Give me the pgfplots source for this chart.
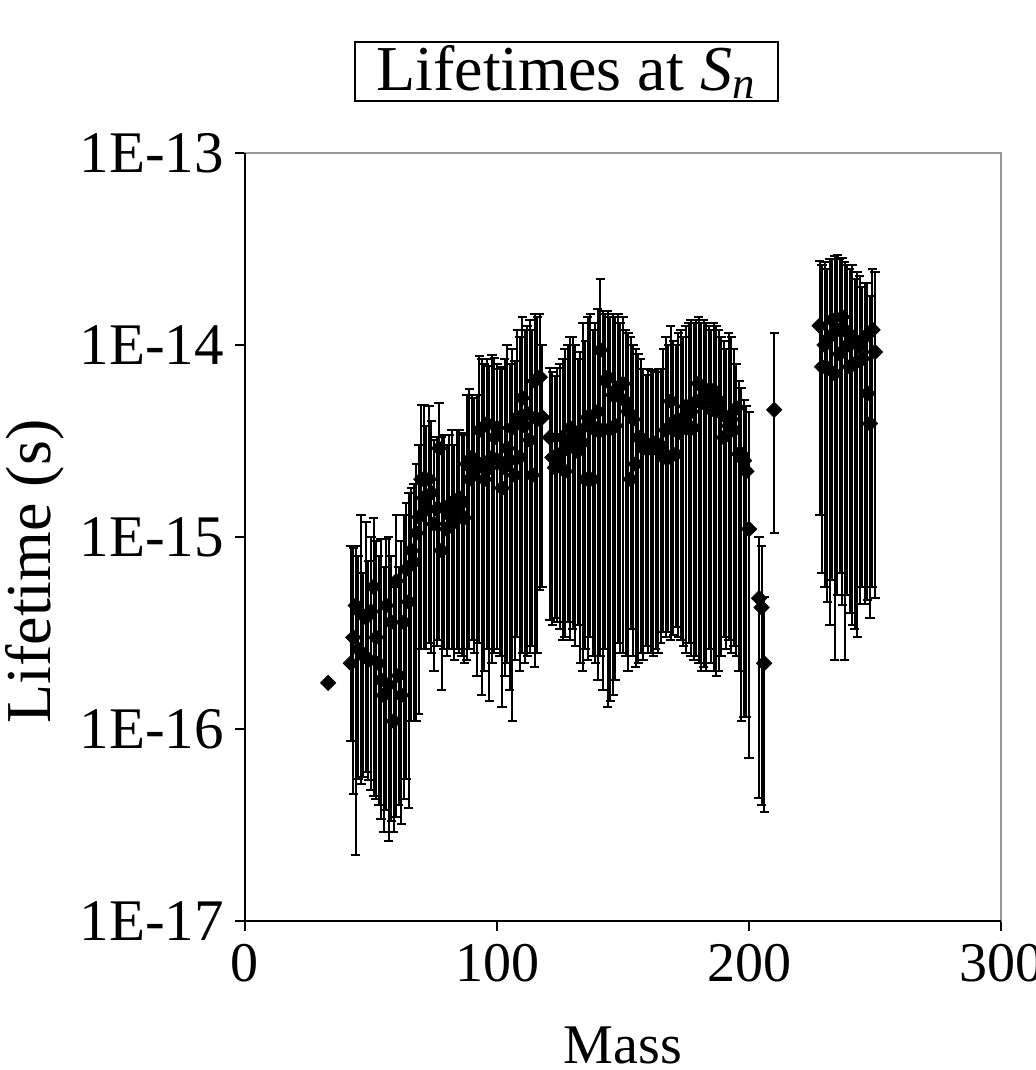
\documentclass[border=0pt]{standalone}
\usepackage{fontspec}
\setmainfont{Liberation Serif}
\usepackage{pgfplots}
\usepackage{pgfplotstable}
\pgfplotsset{compat=1.18}

\pgfplotstableread{
m y lo hi
42 2.2e-16 8.7e-17 9.0e-16
43 3.0e-16 4.6e-17 8.8e-16
44 4.4e-16 2.2e-17 9.0e-16
45 2.6e-16 5.5e-17 8.0e-16
46 4.0e-16 5.2e-17 1.3e-15
47 2.4e-16 5.6e-17 6.5e-16
48 3.8e-16 6.0e-17 1.2e-15
49 2.3e-16 5.4e-17 7.5e-16
50 4.1e-16 4.8e-17 1.0e-15
51 5.5e-16 4.5e-17 1.25e-15
52 3.0e-16 4.3e-17 9.5e-16
53 2.2e-16 4.0e-17 8.0e-16
54 1.8e-16 3.4e-17 9.8e-16
55 1.5e-16 2.9e-17 7.0e-16
56 4.4e-16 3.8e-17 9.8e-16
57 1.7e-16 2.6e-17 1.0e-15
58 3.6e-16 3.3e-17 8.0e-16
59 1.1e-16 2.9e-17 5.5e-16
60 5.9e-16 3.5e-17 1.3e-15
61 1.9e-16 4.0e-17 7.0e-16
62 1.5e-16 3.2e-17 9.5e-16
63 3.6e-16 4.3e-17 1.3e-15
64 6.8e-16 5.5e-17 1.5e-15
65 4.6e-16 3.9e-17 1.7e-15
66 8.5e-16 1.1e-16 1.8e-15
67 7.4e-16 1.1e-16 1.9e-15
68 1.05e-15 1.1e-16 2.4e-15
69 1.27e-15 1.2e-16 3.0e-15
70 2.0e-15 2.6e-16 4.9e-15
71 1.6e-15 2.6e-16 4.9e-15
72 1.4e-15 2.6e-16 3.8e-15
73 2.0e-15 2.8e-16 4.8e-15
74 1.7e-15 2.5e-16 4.0e-15
75 1.17e-15 2.0e-16 3.2e-15
76 1.4e-15 2.7e-16 3.3e-15
77 2.9e-15 2.9e-16 5.0e-15
78 8.5e-16 1.6e-16 3.3e-15
79 1.43e-15 2.6e-16 3.4e-15
80 1.1e-15 2.4e-16 3.0e-15
81 1.3e-15 2.6e-16 3.4e-15
82 1.5e-15 2.6e-16 3.6e-15
83 1.2e-15 2.3e-16 3.0e-15
84 1.4e-15 2.6e-16 3.6e-15
85 1.6e-15 2.5e-16 3.6e-15
86 1.5e-15 2.4e-16 3.5e-15
87 1.26e-15 2.2e-16 3.4e-15
88 2.4e-15 2.3e-16 5.5e-15
89 2.0e-15 2.6e-16 5.9e-15
90 2.6e-15 2.9e-16 5.5e-15
91 2.2e-15 2.5e-16 5.3e-15
92 2.3e-15 1.9e-16 5.5e-15
93 3.6e-15 2.8e-16 8.8e-15
94 2.4e-15 1.5e-16 8.5e-15
95 2.0e-15 2.0e-16 8.0e-15
96 3.9e-15 2.6e-16 8.5e-15
97 2.3e-15 1.4e-16 7.8e-15
98 2.6e-15 2.2e-16 8.9e-15
99 3.3e-15 2.5e-16 8.6e-15
100 3.7e-15 2.6e-16 8.0e-15
101 2.5e-15 2.4e-16 7.5e-15
102 1.8e-15 1.3e-16 7.7e-15
103 2.3e-15 1.9e-16 8.5e-15
104 2.9e-15 2.2e-16 1.0e-14
105 2.5e-15 1.6e-16 8.0e-15
106 3.7e-15 1.1e-16 9.5e-15
107 2.1e-15 2.3e-16 8.3e-15
108 4.2e-15 3.0e-16 1.2e-14
109 2.6e-15 2.0e-16 1.1e-14
110 5.3e-15 2.5e-16 1.4e-14
111 3.8e-15 2.2e-16 1.2e-14
112 4.4e-15 2.4e-16 1.25e-14
113 3.2e-15 2.5e-16 1.35e-14
114 2.1e-15 2.7e-16 1.2e-14
115 6.5e-15 2.1e-16 1.45e-14
116 4.1e-15 2.5e-16 1.4e-14
117 6.8e-15 5.3e-16 1.45e-14
118 4.2e-15 5.5e-16 1.0e-14
121 3.3e-15 3.7e-16 7.6e-15
122 2.6e-15 3.5e-16 7.2e-15
123 2.3e-15 3.8e-16 6.9e-15
124 2.4e-15 3.6e-16 7.6e-15
125 2.7e-15 3.3e-16 8.0e-15
126 3.3e-15 2.9e-16 8.5e-15
127 2.2e-15 3.0e-16 9.5e-15
128 3.0e-15 3.6e-16 1.0e-14
129 3.7e-15 2.9e-16 1.1e-14
130 3.3e-15 3.3e-16 1.1e-14
131 3.3e-15 2.7e-16 1.0e-14
132 2.8e-15 3.5e-16 8.5e-15
133 3.6e-15 2.2e-16 9.2e-15
134 3.1e-15 2.0e-16 1.3e-14
135 2.0e-15 2.6e-16 1.05e-14
136 4.2e-15 2.3e-16 1.4e-14
137 3.9e-15 3.0e-16 1.45e-14
138 2.0e-15 2.4e-16 1.2e-14
139 3.6e-15 2.2e-16 1.3e-14
140 4.5e-15 1.8e-16 1.55e-14
141 9.4e-15 2.4e-16 2.2e-14
142 3.6e-15 1.6e-16 1.5e-14
143 6.5e-15 2.6e-16 1.45e-14
144 6.8e-15 1.3e-16 1.5e-14
145 3.7e-15 1.4e-16 1.4e-14
146 5.5e-15 1.5e-16 1.45e-14
147 3.8e-15 1.8e-16 1.4e-14
148 6.0e-15 2.8e-16 1.45e-14
149 5.3e-15 2.5e-16 1.3e-14
150 6.3e-15 2.5e-16 1.4e-14
151 5.1e-15 2.4e-16 1.2e-14
152 4.5e-15 2.0e-16 1.15e-14
153 2.0e-15 3.3e-16 1.1e-14
154 4.1e-15 2.4e-16 1.0e-14
155 2.4e-15 2.1e-16 9.5e-15
156 3.3e-15 2.2e-16 9.0e-15
157 3.3e-15 2.5e-16 8.5e-15
158 2.9e-15 2.3e-16 7.5e-15
159 3.1e-15 2.7e-16 7.0e-15
160 2.9e-15 2.5e-16 7.5e-15
161 3.0e-15 2.5e-16 7.4e-15
162 3.1e-15 2.4e-16 7.3e-15
163 2.9e-15 2.6e-16 7.2e-15
164 3.0e-15 2.5e-16 7.5e-15
165 3.0e-15 2.8e-16 7.5e-15
166 2.6e-15 3.2e-16 9.5e-15
167 3.6e-15 3.0e-16 1.1e-14
168 2.6e-15 3.2e-16 1.0e-14
169 5.1e-15 2.9e-16 1.25e-14
170 4.0e-15 3.1e-16 1.05e-14
171 2.7e-15 3.4e-16 1.0e-14
172 3.5e-15 3.0e-16 1.15e-14
173 4.0e-15 2.9e-16 1.2e-14
174 4.2e-15 2.7e-16 1.1e-14
175 4.8e-15 2.5e-16 1.25e-14
176 3.7e-15 2.8e-16 1.3e-14
177 4.5e-15 2.4e-16 1.35e-14
178 3.7e-15 2.3e-16 1.3e-14
179 5.1e-15 2.4e-16 1.35e-14
180 6.3e-15 2.2e-16 1.4e-14
181 5.0e-15 2.0e-16 1.3e-14
182 6.0e-15 2.1e-16 1.35e-14
183 5.5e-15 2.0e-16 1.3e-14
184 5.3e-15 2.6e-16 1.25e-14
185 4.6e-15 2.2e-16 1.2e-14
186 5.8e-15 2.0e-16 1.3e-14
187 5.3e-15 1.9e-16 1.25e-14
188 5.0e-15 2.0e-16 1.2e-14
189 4.4e-15 2.4e-16 1.1e-14
190 3.3e-15 3.0e-16 1.05e-14
191 4.2e-15 2.6e-16 9.5e-15
192 3.8e-15 2.9e-16 1.15e-14
193 4.1e-15 2.5e-16 1.1e-14
194 3.6e-15 2.7e-16 9.5e-15
195 4.7e-15 2.4e-16 8.0e-15
196 2.7e-15 2.0e-16 6.5e-15
197 2.7e-15 1.1e-16 6.0e-15
198 2.5e-15 1.15e-16 5.2e-15
199 2.2e-15 1.15e-16 4.8e-15
200 1.1e-15 7.1e-17 4.5e-15
204 4.8e-16 4.4e-17 1.0e-15
205 4.3e-16 4.0e-17 9.0e-16
206 2.2e-16 3.7e-17 4.9e-16
210 4.6e-15 1.05e-15 1.15e-14
228 1.26e-14 1.3e-15 2.75e-14
229 7.7e-15 6.5e-16 2.6e-14
230 1.0e-14 5.5e-16 2.7e-14
231 7.6e-15 4.6e-16 2.5e-14
232 1.1e-14 3.5e-16 2.8e-14
233 1.35e-14 6.0e-16 2.8e-14
234 7.1e-15 2.3e-16 2.9e-14
235 1.2e-14 5.0e-16 2.95e-14
236 9.0e-15 6.5e-16 2.8e-14
237 1.4e-14 4.4e-16 2.85e-14
238 1.2e-14 2.3e-16 2.7e-14
239 1.0e-14 5.0e-16 2.6e-14
240 7.7e-15 4.0e-16 2.5e-14
241 1.1e-14 3.5e-16 2.6e-14
242 8.0e-15 3.3e-16 2.2e-14
243 1.0e-14 3.0e-16 2.4e-14
244 9.8e-15 4.5e-16 2.3e-14
245 8.5e-15 5.5e-16 2.0e-14
246 1.1e-14 4.5e-16 2.1e-14
247 5.6e-15 4.7e-16 2.1e-14
248 3.9e-15 3.8e-16 1.8e-14
249 1.2e-14 5.5e-16 2.5e-14
250 9.2e-15 4.8e-16 2.4e-14
}\datatable

\pgfplotstableread{
m y
33 1.74e-16
}\singlepoint

\begin{document}
\begin{tikzpicture}
\begin{axis}[
  name=ax,
  scale only axis,
  width=378pt, height=384pt,
  xmin=0, xmax=300,
  ymode=log, log basis y=10,
  ymin=1e-17, ymax=1e-13,
  xtick={0,100,200,300},
  xticklabels={0,100,200,300},
  ytick={1e-17,1e-16,1e-15,1e-14,1e-13},
  yticklabels={1E-17,1E-16,1E-15,1E-14,1E-13},
  yminorticks=false, xminorticks=false,
  tick align=outside,
  major tick length=5pt,
  tick style={black, line width=0.8pt},
  xtick pos=bottom, ytick pos=left,
  axis line style={black!40, line width=1.3pt},
  /pgf/number format/assume math mode=true,
  xticklabel style={font=\fontsize{28}{30}\selectfont, yshift=-3pt},
  yticklabel style={font=\fontsize{29.5}{31}\selectfont, xshift=-2pt},
  xlabel={Mass},
  ylabel={Lifetime (s)},
  xlabel style={font=\fontsize{28}{30}\selectfont, at={(axis description cs:0.5,-0.162)}, anchor=center},
  ylabel style={font=\fontsize{32}{34}\selectfont, at={(axis description cs:-0.2778,0.455)}, anchor=center},
  clip=false,
]
\addplot[only marks, black, mark=square*, mark size=2.7pt,
  mark options={rotate=45, fill=black},
  error bars/.cd, y dir=both, y explicit,
  error bar style={black, line width=1pt},
  error mark options={black, line width=1pt, mark size=2.3pt, rotate=90}]
  table[x=m, y=y,
    y error plus expr=\thisrow{hi}-\thisrow{y},
    y error minus expr=\thisrow{y}-\thisrow{lo}] {\datatable};
\addplot[only marks, black, mark=square*, mark size=2.7pt,
  mark options={rotate=45, fill=black}]
  table[x=m, y=y] {\singlepoint};
\end{axis}
\draw[black, line width=0.8pt] (ax.north west) -- (ax.south west) -- (ax.south east);
\node[draw=black, line width=1pt, minimum width=211.5pt, minimum height=29.5pt,
  inner sep=0pt, font=\fontsize{32}{34}\selectfont]
  at ([xshift=160.5pt, yshift=40.5pt]ax.north west)
  {Lifetimes at \textit{S}\textsubscript{\textit{n}}};
\pgfresetboundingbox
\path[use as bounding box] ([xshift=-122.5pt, yshift=-74.5pt]ax.south west)
  rectangle ([xshift=17.5pt, yshift=76.5pt]ax.north east);
\end{tikzpicture}
\end{document}
